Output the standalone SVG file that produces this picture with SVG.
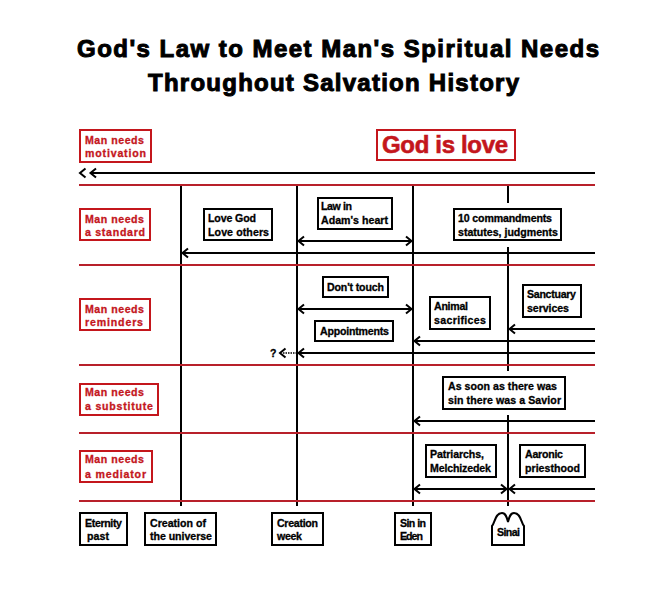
<svg xmlns="http://www.w3.org/2000/svg" width="671" height="591" viewBox="0 0 671 591">
<style>
text{font-family:"Liberation Sans",Arial,sans-serif;font-weight:700;font-size:10.6px;fill:#000;stroke:#000;stroke-width:.3px}
.k rect,.k path{fill:#fff;stroke:#000;stroke-width:2}
.r rect{fill:#fff;stroke:#c4161c;stroke-width:2}
.r text{fill:#c4161c;stroke:#c4161c}
.red{stroke:#b8202a;stroke-width:2;fill:none}
.blk{stroke:#000;stroke-width:2;fill:none}
.head{stroke:#000;stroke-width:2;fill:none}
.title{font-size:24px;stroke-width:1px}
.big{font-size:24px;stroke-width:.6px}
</style>
<defs>
<marker id="arrow" markerUnits="userSpaceOnUse" markerWidth="14" markerHeight="12" refX="12" refY="6" orient="auto-start-reverse"><path d="M5 1.500L10.500 6L5 10.500" fill="none" stroke="#000" stroke-width="2"/></marker>
</defs>
<rect width="671" height="591" fill="#fff"/>
<g id="title">
<text class="title" x="77" y="57" textLength="522">God's Law to Meet Man's Spiritual Needs</text>
<text class="title" x="148" y="91" textLength="371">Throughout Salvation History</text>
</g>
<g id="connectors">
<path class="blk" d="M181 185V506M297 185V506M413 185V506M508 185V203M508 247V371M508 415V506"/>
<path class="red" d="M79 185H595M79 265H595M79 365H595M79 433H595M79 501H595"/>
<path class="blk" d="M595 173H90"/>
<path class="head" d="M85.500 168.500L80 173L85.500 177.500M96 168.500L90.500 173L96 177.500"/>
<path class="blk" d="M297 241H413" marker-start="url(#arrow)" marker-end="url(#arrow)"/>
<path class="blk" d="M595 253H181" marker-end="url(#arrow)"/>
<path class="blk" d="M297 309H413" marker-start="url(#arrow)" marker-end="url(#arrow)"/>
<path class="blk" d="M595 329H508" marker-end="url(#arrow)"/>
<path class="blk" d="M595 341H413" marker-end="url(#arrow)"/>
<path class="blk" d="M595 353H297" marker-end="url(#arrow)"/>
<path d="M297 353H282" fill="none" stroke="#000" stroke-width="1.500" stroke-dasharray="1.500 1"/>
<path class="head" d="M285.500 348.500L280 353L285.500 357.500"/>
<path class="blk" d="M595 421H413" marker-end="url(#arrow)"/>
<path class="blk" d="M413 489H508" marker-start="url(#arrow)" marker-end="url(#arrow)"/>
<path class="blk" d="M595 489H508" marker-end="url(#arrow)"/>
</g>
<g id="motivation" class="r"><rect x="80" y="130" width="71" height="32"/><text x="85" y="144" textLength="59">Man needs</text><text x="85" y="157" textLength="61">motivation</text></g>
<g id="god-is-love" class="r"><rect x="377" y="130" width="138" height="30"/><text class="big" x="382" y="153" textLength="126" style="stroke:#c4161c">God is love</text></g>
<g id="standard" class="r"><rect x="80" y="209" width="70" height="31"/><text x="85" y="223" textLength="59">Man needs</text><text x="85" y="236" textLength="60">a standard</text></g>
<g id="love-god" class="k"><rect x="204" y="209" width="68" height="31"/><text x="208" y="222" textLength="48">Love God</text><text x="208" y="236" textLength="61">Love others</text></g>
<g id="law-in" class="k"><rect x="318" y="198" width="74" height="31"/><text x="321" y="210" textLength="31">Law in</text><text x="321" y="224" textLength="67">Adam's heart</text></g>
<g id="ten-commandments" class="k"><rect x="454" y="209" width="107" height="31"/><text x="458" y="222" textLength="94">10 commandments</text><text x="458" y="236" textLength="100">statutes, judgments</text></g>
<g id="reminders" class="r"><rect x="80" y="299" width="70" height="31"/><text x="85" y="313" textLength="59">Man needs</text><text x="85" y="326" textLength="58">reminders</text></g>
<g id="dont-touch" class="k"><rect x="323" y="277" width="65" height="20"/><text x="327" y="291" textLength="57">Don't touch</text></g>
<g id="appointments" class="k"><rect x="315" y="321" width="78" height="20"/><text x="320" y="335" textLength="69">Appointments</text></g>
<g id="animal" class="k"><rect x="430" y="297" width="60" height="32"/><text x="434" y="310" textLength="34">Animal</text><text x="434" y="324" textLength="52">sacrifices</text></g>
<g id="sanctuary" class="k"><rect x="523" y="285" width="58" height="32"/><text x="527" y="298" textLength="49">Sanctuary</text><text x="527" y="312" textLength="42">services</text></g>
<g id="unknown"><text x="270" y="357">?</text></g>
<g id="substitute" class="r"><rect x="80" y="384" width="78" height="31"/><text x="85" y="396" textLength="59">Man needs</text><text x="85" y="410" textLength="68">a substitute</text></g>
<g id="savior" class="k"><rect x="443" y="377" width="122" height="32"/><text x="448" y="390" textLength="109">As soon as there was</text><text x="448" y="404" textLength="113">sin there was a Savior</text></g>
<g id="mediator" class="r"><rect x="80" y="451" width="72" height="31"/><text x="85" y="463" textLength="59">Man needs</text><text x="85" y="478" textLength="61">a mediator</text></g>
<g id="patriarchs" class="k"><rect x="426" y="445" width="70" height="32"/><text x="430" y="458" textLength="54">Patriarchs,</text><text x="430" y="472" textLength="61">Melchizedek</text></g>
<g id="aaronic" class="k"><rect x="520" y="445" width="65" height="32"/><text x="525" y="458" textLength="38">Aaronic</text><text x="525" y="472" textLength="55">priesthood</text></g>
<g id="eternity" class="k"><rect x="80" y="513" width="47" height="32"/><text x="85" y="527" textLength="37">Eternity</text><text x="87" y="540" textLength="22">past</text></g>
<g id="creation-universe" class="k"><rect x="145" y="513" width="71" height="32"/><text x="150" y="527" textLength="56">Creation of</text><text x="150" y="540" textLength="62">the universe</text></g>
<g id="creation-week" class="k"><rect x="272" y="513" width="51" height="32"/><text x="277" y="527" textLength="41">Creation</text><text x="277" y="540" textLength="25">week</text></g>
<g id="sin-in-eden" class="k"><rect x="395" y="513" width="36" height="32"/><text x="400" y="527" textLength="26">Sin in</text><text x="400" y="540" textLength="23">Eden</text></g>
<g id="sinai" class="k"><path d="M492 545V526C495 523 495 513 502 513C506 513 507 518 508 522C509 518 510 513 514 513C521 513 521 523 524 526V545Z"/><text x="497" y="536" textLength="23">Sinai</text></g>
</svg>
